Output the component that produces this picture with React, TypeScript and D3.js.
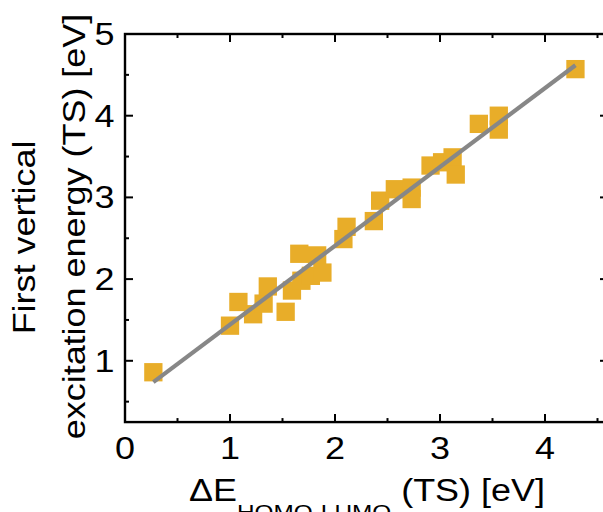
import React from "react";
import * as d3 from "d3";

// Data
const xValues = [0.27, 1.0, 1.08, 1.22, 1.32, 1.36, 1.53, 1.59, 1.68, 1.66, 1.83, 1.77, 1.88, 2.08, 2.11, 2.37, 2.43, 2.57, 2.73, 2.73, 2.91, 3.02, 3.12, 3.15, 3.37, 3.56, 3.56, 4.29];
const yValues = [0.86, 1.43, 1.72, 1.57, 1.7, 1.91, 1.6, 1.86, 1.98, 2.31, 2.29, 2.04, 2.08, 2.49, 2.64, 2.71, 2.96, 3.1, 3.12, 2.98, 3.39, 3.43, 3.49, 3.28, 3.9, 4.0, 3.83, 4.57];
const fitSlope = 0.965;
const fitIntercept = 0.478;
const xMajorTicks = [0, 1, 2, 3, 4];
const xMinorTicks = [0.5, 1.5, 2.5, 3.5, 4.5];
const yMajorTicks = [1, 2, 3, 4, 5];
const yMinorTicks = [0.5, 1.5, 2.5, 3.5, 4.5];
const xLabelMain = "ΔE";
const xLabelSub = "HOMO-LUMO";
const xLabelRest = " (TS) [eV]";
const yLabelLines = ["First vertical", "excitation energy (TS) [eV]"];

const W = 603;
const H = 512;
const FONT = "'Liberation Sans', Arial, Helvetica, sans-serif";
const SX = 1.16;

export default function App() {
  const left = 125;
  const top = 34;
  const x = d3.scaleLinear().domain([0, 4.6]).range([left, left + 4.6 * 105]);
  const y = d3.scaleLinear().domain([0.25, 5]).range([top + 4.75 * 81.7, top]);
  const [x0, x1] = x.range();
  const [y0, y1] = y.range(); // y0 bottom, y1 top

  const pts = xValues.map((v, i) => [v, yValues[i]] as [number, number]);
  const xe = d3.extent(xValues) as [number, number];
  const fitLine = d3.line<number>()
    .x((d) => x(d))
    .y((d) => y(fitSlope * d + fitIntercept));

  const sq = 18.3;
  const major = 8;
  const minor = 4;

  return (
    <svg width={W} height={H} style={{ position: "absolute", left: 0, top: 0, background: "#fff" }}>
      {/* points */}
      {pts.map(([a, b], i) => (
        <rect key={i} x={x(a) - sq / 2} y={y(b) - sq / 2} width={sq} height={sq} fill="#E8AD29" />
      ))}
      {/* fit line */}
      <path d={fitLine(xe) || ""} stroke="#878787" strokeWidth={4.2} fill="none" />

      {/* frame */}
      <rect x={x0} y={y1} width={x1 - x0} height={y0 - y1} fill="none" stroke="#000" strokeWidth={2.4} />

      {/* x ticks */}
      {xMajorTicks.map((t) => (
        <g key={"xM" + t}>
          <line x1={x(t)} x2={x(t)} y1={y0} y2={y0 - major} stroke="#000" strokeWidth={2} />
          <line x1={x(t)} x2={x(t)} y1={y1} y2={y1 + major} stroke="#000" strokeWidth={2} />
          <g transform={`translate(${x(t)},${459}) scale(${SX},1)`}>
            <text textAnchor="middle" fontFamily={FONT} fontSize={31} fill="#000">{t}</text>
          </g>
        </g>
      ))}
      {xMinorTicks.map((t) => (
        <g key={"xm" + t}>
          <line x1={x(t)} x2={x(t)} y1={y0} y2={y0 - minor} stroke="#000" strokeWidth={2} />
          <line x1={x(t)} x2={x(t)} y1={y1} y2={y1 + minor} stroke="#000" strokeWidth={2} />
        </g>
      ))}
      {/* y ticks */}
      {yMajorTicks.map((t) => (
        <g key={"yM" + t}>
          <line x1={x0} x2={x0 + major} y1={y(t)} y2={y(t)} stroke="#000" strokeWidth={2} />
          <line x1={x1} x2={x1 - major} y1={y(t)} y2={y(t)} stroke="#000" strokeWidth={2} />
          <g transform={`translate(${114.5},${y(t) + 11}) scale(${SX},1)`}>
            <text textAnchor="end" fontFamily={FONT} fontSize={31} fill="#000">{t}</text>
          </g>
        </g>
      ))}
      {yMinorTicks.map((t) => (
        <g key={"ym" + t}>
          <line x1={x0} x2={x0 + minor} y1={y(t)} y2={y(t)} stroke="#000" strokeWidth={2} />
          <line x1={x1} x2={x1 - minor} y1={y(t)} y2={y(t)} stroke="#000" strokeWidth={2} />
        </g>
      ))}

      {/* x label */}
      <g transform={`translate(${367},${501}) scale(${SX},1)`}>
        <text textAnchor="middle" fontFamily={FONT} fontSize={31} fill="#000">
          {xLabelMain}
          <tspan fontSize={21} dy={18}>{xLabelSub}</tspan>
          <tspan dy={-18}>{xLabelRest}</tspan>
        </text>
      </g>

      {/* y label */}
      <g transform={`translate(${35},${237.5}) rotate(-90) scale(${SX},1)`}>
        <text textAnchor="middle" fontFamily={FONT} fontSize={31} fill="#000">{yLabelLines[0]}</text>
      </g>
      <g transform={`translate(${85},${226.5}) rotate(-90) scale(${SX},1)`}>
        <text textAnchor="middle" fontFamily={FONT} fontSize={31} fill="#000">{yLabelLines[1]}</text>
      </g>
    </svg>
  );
}
